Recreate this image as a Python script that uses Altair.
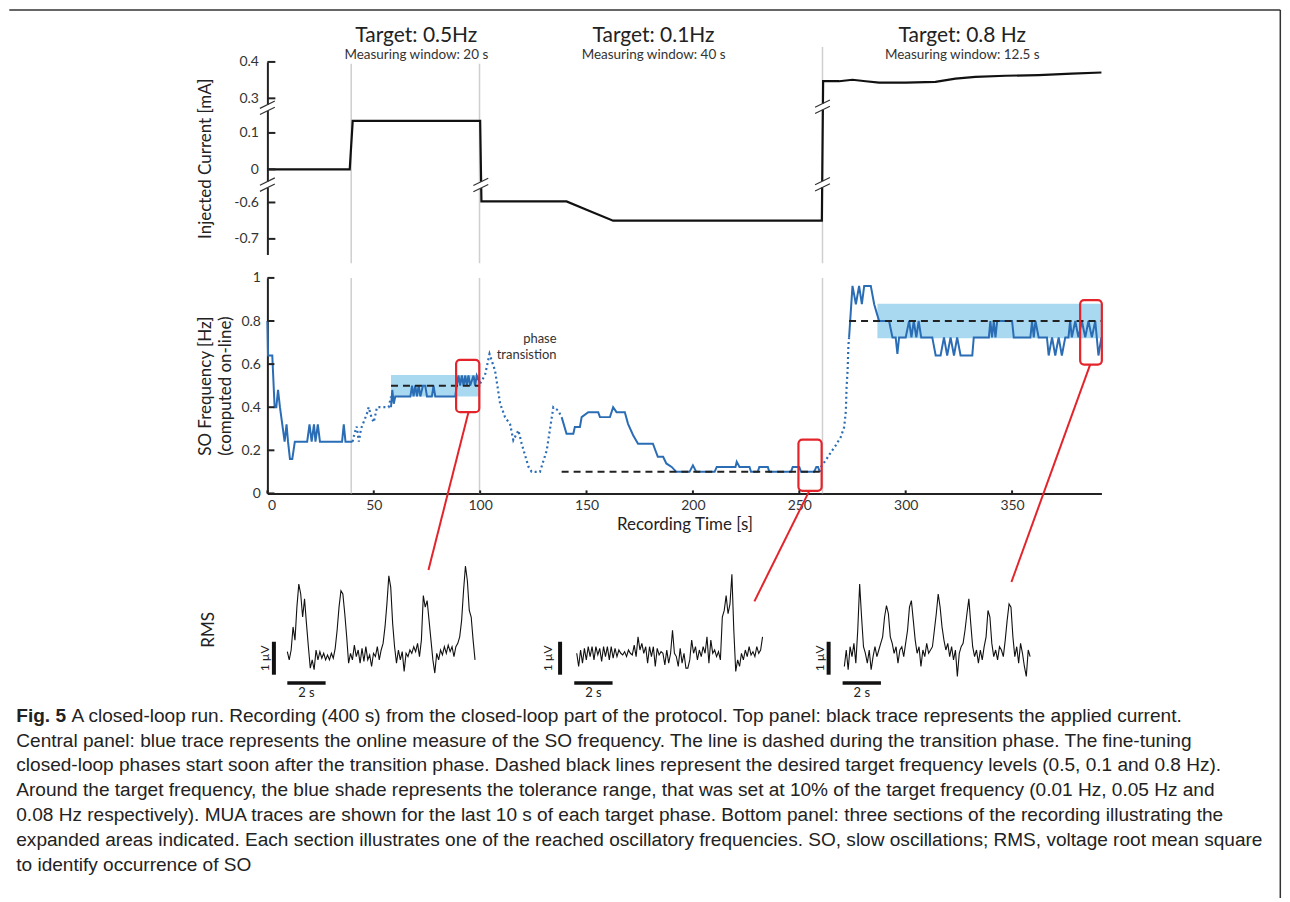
import altair as alt
import pandas as pd

FONT = "Lato"
CAPFONT = "Liberation Sans"
BLUE = "#2a6db5"
BAND = "#a9d9f1"
RED = "#e3242b"
GRAY = "#cfcfcf"
INK = "#222222"

W = 836
T_MAX = 392

# ---------------- data ----------------
# top panel: injected current (mA) vs time (s)
top_t = [0, 38.7, 40.1, 100.0, 100.6, 140.6, 150.0, 162.5, 260.6, 261.2, 268.7, 275.0,
         281.2, 287.5, 300.0, 314.0, 323.4, 332.8, 346.9, 362.5, 378.1, 392.0]
top_mA = [0, 0, 0.133, 0.133, -0.597, -0.597, -0.62, -0.65, -0.65, 0.347, 0.347, 0.351,
          0.347, 0.343, 0.343, 0.345, 0.354, 0.359, 0.362, 0.364, 0.368, 0.371]
top_tick_labels = [0.4, 0.3, 0.1, 0, -0.6, -0.7]

phase_bounds = [39.4, 99.7, 260.9]
phase_titles = ["Target: 0.5Hz", "Target: 0.1Hz", "Target: 0.8 Hz"]
phase_windows = ["Measuring window: 20 s", "Measuring window: 40 s", "Measuring window: 12.5 s"]
phase_centers = [70.0, 181.5, 326.6]

# middle panel: SO frequency (Hz)
solid_segments = [
    [(0, 0.80), (0.3, 0.64), (2.3, 0.64), (3.4, 0.40), (4.2, 0.40), (5.0, 0.48), (5.9, 0.40),
     (8.1, 0.24), (9.0, 0.32), (9.7, 0.24), (10.6, 0.16), (11.7, 0.16), (12.9, 0.24), (18.7, 0.24),
     (19.8, 0.32), (20.8, 0.24), (21.9, 0.32), (22.6, 0.24), (23.7, 0.32), (24.7, 0.24),
     (35.1, 0.24), (35.9, 0.32), (36.7, 0.24), (40.0, 0.24)],
    [(58.1, 0.40), (58.7, 0.48), (59.4, 0.416), (60.1, 0.45), (67.2, 0.45), (68.0, 0.50),
     (68.7, 0.45), (69.5, 0.50), (70.3, 0.45), (71.1, 0.50), (71.9, 0.45), (73.1, 0.50),
     (74.2, 0.50), (75.0, 0.45), (77.3, 0.45), (78.1, 0.50), (78.9, 0.45), (88.3, 0.45),
     (89.0, 0.50), (89.8, 0.547), (90.6, 0.50), (91.4, 0.547), (92.2, 0.50), (93.0, 0.547),
     (93.7, 0.50), (94.5, 0.547), (95.3, 0.50), (96.9, 0.547), (97.6, 0.50), (98.4, 0.547),
     (100.0, 0.51)],
    [(138.3, 0.354), (140.6, 0.277), (143.8, 0.277), (144.5, 0.308), (146.9, 0.308),
     (147.7, 0.354), (150.8, 0.377), (155.5, 0.377), (156.3, 0.354), (161.0, 0.354),
     (162.5, 0.40), (164.1, 0.377), (168.0, 0.377), (169.5, 0.323), (171.9, 0.27),
     (174.2, 0.231), (181.2, 0.231), (183.5, 0.17), (186.0, 0.17), (187.5, 0.139),
     (190.0, 0.123), (192.2, 0.10), (198.4, 0.10), (200.0, 0.13), (201.6, 0.10),
     (210.2, 0.10), (211.2, 0.123), (220.0, 0.123), (220.6, 0.147), (221.9, 0.123),
     (226.6, 0.123), (227.3, 0.10), (230.5, 0.10), (231.2, 0.123), (235.2, 0.123),
     (235.9, 0.10), (246.1, 0.10), (246.9, 0.123), (250.0, 0.123), (250.8, 0.10),
     (257.0, 0.10), (258.0, 0.123), (258.8, 0.123), (259.6, 0.10)],
    [(273.4, 0.724), (275.0, 0.963), (276.6, 0.878), (278.1, 0.963), (279.4, 0.878),
     (280.5, 0.963), (283.6, 0.963), (285.2, 0.878), (286.3, 0.84), (287.5, 0.80),
     (292.2, 0.80), (293.8, 0.724), (295.3, 0.724), (296.1, 0.647), (296.9, 0.724),
     (300.0, 0.724), (301.6, 0.80), (302.7, 0.724), (303.8, 0.80), (305.0, 0.724),
     (306.1, 0.80), (307.3, 0.724), (312.5, 0.724), (314.1, 0.64), (316.4, 0.64),
     (318.0, 0.724), (319.5, 0.64), (321.1, 0.724), (322.7, 0.64), (324.2, 0.724),
     (325.8, 0.64), (331.3, 0.64), (332.0, 0.724), (339.1, 0.724), (339.8, 0.80),
     (340.6, 0.724), (341.4, 0.80), (342.2, 0.724), (343.0, 0.80), (350.0, 0.80),
     (350.8, 0.724), (358.6, 0.724), (359.4, 0.80), (360.2, 0.724), (361.0, 0.80),
     (362.5, 0.724), (366.4, 0.724), (367.2, 0.64), (368.8, 0.724), (370.3, 0.64),
     (371.9, 0.724), (373.4, 0.64), (375.0, 0.724), (376.5, 0.724), (377.3, 0.80),
     (378.1, 0.724), (379.7, 0.80), (381.2, 0.724), (382.8, 0.80), (384.4, 0.724),
     (385.9, 0.80), (387.5, 0.724), (389.1, 0.80), (390.6, 0.64), (392.0, 0.724)],
]
dotted_segments = [
    [(40.0, 0.24), (41.0, 0.28), (42.0, 0.31), (43.0, 0.24), (44.0, 0.30), (46.8, 0.37),
     (47.6, 0.40), (49.0, 0.35), (50.0, 0.33), (51.5, 0.40), (57.0, 0.40), (58.1, 0.45)],
    [(100.0, 0.51), (102.3, 0.55), (104.4, 0.647), (107.0, 0.57), (109.4, 0.416),
     (111.7, 0.354), (114.1, 0.32), (115.6, 0.247), (118.0, 0.293), (119.5, 0.231),
     (122.7, 0.124), (124.2, 0.10), (128.1, 0.10), (131.3, 0.20), (134.4, 0.40),
     (136.7, 0.385), (138.3, 0.354)],
    [(259.6, 0.10), (260.2, 0.123), (262.5, 0.155), (264.8, 0.19), (267.2, 0.224),
     (269.5, 0.262), (271.1, 0.308), (271.9, 0.385), (272.2, 0.49), (272.7, 0.57),
     (273.1, 0.69), (273.4, 0.724)],
]

target_f = [0.5, 0.1, 0.8]
target_start = [58.1, 138.3, 273.4]
target_end = [100.0, 259.6, 392.0]

band_lo = [0.45, 0.72]
band_hi = [0.55, 0.88]
band_start = [58.1, 286.7]
band_end = [100.0, 392.0]

box_t0 = [88.7, 249.6, 382.0]
box_t1 = [99.6, 260.5, 392.2]
box_f0 = [0.377, 0.012, 0.598]
box_f1 = [0.62, 0.25, 0.897]

link_t0 = [94.5, 254.7, 386.7]
link_f0 = [0.377, 0.012, 0.598]
link_t1 = [75.7, 228.9, 349.7]
link_f1 = [-0.355, -0.501, -0.411]

mid_x_ticks = [0, 50, 100, 150, 200, 250, 300, 350]
mid_y_ticks = [0, 0.2, 0.4, 0.6, 0.8, 1]

# bottom panel: RMS traces (uV), sampled every 0.1 s
rms_05hz = [0.15, -0.1, 0.2, 0.9, 0.5, 1.5, 2.2, 1.9, 1.2, 1.75,
            1.0, 0.3, -0.35, -0.1, -0.4, 0.2, -0.1, 0.15, -0.05, 0.1,
            -0.1, 0.05, -0.1, 0.1, -0.05, 0.25, 0.8, 1.5, 2.0, 1.9,
            1.3, 0.6, -0.2, 0.1, -0.1, 0.35, 0.0, 0.2, -0.2, 0.25,
            -0.15, 0.3, -0.1, 0.05, -0.3, 0.1, 0.0, 0.3, -0.1, 0.2,
            0.4, 0.9, 1.6, 2.45, 2.1, 1.0, 0.3, -0.2, 0.2, -0.1,
            0.15, -0.45, 0.1, 0.0, 0.2, 0.1, 0.3, 0.15, 0.4, 0.0,
            0.5, 1.85, 1.5, 1.7, 1.1, 0.5, -0.1, -0.5, 0.1, -0.1,
            0.2, 0.05, 0.3, 0.1, 0.35, 0.15, 0.3, 0.0, 0.3, 0.4,
            0.6, 1.1, 2.0, 2.75, 2.3, 1.4, 1.2, 0.5, -0.1]
rms_01hz = [0.1, -0.3, 0.2, -0.2, 0.25, -0.1, 0.3, 0.0, 0.3, -0.1,
            0.3, 0.05, 0.25, -0.15, 0.3, 0.0, 0.3, -0.1, 0.3, -0.05,
            0.25, 0.0, 0.2, 0.1, 0.05, 0.15, 0.0, 0.2, 0.1, 0.05,
            0.35, 0.0, 0.6, 0.2, 0.4, 0.1, 0.3, -0.2, 0.3, 0.0,
            0.3, -0.3, 0.25, 0.05, 0.15, 0.1, -0.25, 0.2, -0.2, 0.1,
            0.8, 0.1, 0.0, -0.3, 0.25, -0.2, 0.1, -0.35, -0.35, -0.1,
            0.5, 0.1, 0.3, -0.1, 0.2, 0.0, 0.3, 0.1, 0.6, -0.2,
            0.5, 0.1, 0.2, 0.0, 0.15, -0.1, 1.2, 1.4, 1.85, 1.3,
            1.6, 2.5, 0.8, -0.45, -0.1, -0.3, 0.1, -0.1, 0.2, 0.0,
            0.3, 0.05, 0.15, 0.0, 0.3, 0.1, 0.2, 0.6]
rms_08hz = [-0.3, 0.2, -0.4, 0.3, 0.0, 0.4, -0.2, 0.8, 2.2, 1.2,
            0.3, 0.1, -0.2, 0.2, -0.4, 0.0, 0.3, 0.0, 0.2, 0.4,
            0.6, 1.2, 1.55, 1.3, 0.6, 0.4, 0.1, 0.3, -0.2, 0.2,
            0.3, 0.0, 0.4, 0.8, 1.5, 1.7, 1.1, 0.5, 0.1, 0.3,
            -0.3, 0.2, 0.0, 0.4, 0.1, 0.2, 0.3, 0.8, 1.3, 1.9,
            1.5, 0.9, 0.5, 0.2, 0.4, 0.0, 0.3, -0.1, 0.2, -0.6,
            0.1, 0.3, 0.4, 0.8, 1.3, 1.75, 1.0, 0.3, 0.0, 0.2,
            -0.2, 0.2, -0.1, 0.3, 0.6, 1.4, 1.2, 0.4, 0.0, 0.2,
            -0.1, 0.3, 0.2, 0.0, 0.5, 1.1, 1.6, 1.5, 0.6, 0.0,
            0.3, -0.2, 0.4, 0.1, -0.3, -0.6, 0.2, 0.0]
trace_offsets = [1.04, 16.15, 30.12]
hbar_start = [1.04, 16.02, 30.03]
vbar_x = [0.34, 15.28, 29.30]
vlabel_x = [-0.12, 14.65, 28.87]

caption_lines = [
    "A closed-loop run. Recording (400 s) from the closed-loop part of the protocol. Top panel: black trace represents the applied current.",
    "Central panel: blue trace represents the online measure of the SO frequency. The line is dashed during the transition phase. The fine-tuning",
    "closed-loop phases start soon after the transition phase. Dashed black lines represent the desired target frequency levels (0.5, 0.1 and 0.8 Hz).",
    "Around the target frequency, the blue shade represents the tolerance range, that was set at 10% of the target frequency (0.01 Hz, 0.05 Hz and",
    "0.08 Hz respectively). MUA traces are shown for the last 10 s of each target phase. Bottom panel: three sections of the recording illustrating the",
    "expanded areas indicated. Each section illustrates one of the reached oscillatory frequencies. SO, slow oscillations; RMS, voltage root mean square",
    "to identify occurrence of SO",
]


# ---------------- broken-axis display transform for the top panel ----------------
def disp(v):
    if v >= 0.25:
        return 4.0 + (v - 0.3) * 10
    if v > -0.3:
        return 2.05 + v * 10
    return 1.14 + (v + 0.6) * 10


top_ticks = [disp(v) for v in top_tick_labels]
label_expr = " : ".join(
    f"abs(datum.value - {d}) < 0.2 ? '{lab:g}'" for d, lab in zip(top_ticks, top_tick_labels)
) + " : ''"

TOP_H = 193
MID_H = 216
BOT_H = 183

x_top = alt.Scale(domain=[0, T_MAX], nice=False, zero=False)
y_top_scale = alt.Scale(domain=[-0.288, 5], nice=False, zero=False)
Y_AXIS_TOP = alt.Axis(values=top_ticks, labelExpr=label_expr, tickSize=0, domainColor=INK,
                      domainWidth=2, labelFont=FONT, labelFontSize=14, labelColor="#333",
                      labelPadding=9, grid=False, title="Injected Current [mA]",
                      titleFont=FONT, titleFontSize=17, titleFontWeight="normal",
                      titleColor=INK, titleAngle=270, titleX=-62, titleY=TOP_H / 2,
                      titleAlign="center", titleBaseline="middle")


def XT(f="t"):
    return alt.X(f"{f}:Q", scale=x_top, axis=None)


def YT(f="D"):
    return alt.Y(f"{f}:Q", scale=y_top_scale, axis=Y_AXIS_TOP)


top_df = pd.DataFrame({"t": top_t, "D": [disp(v) for v in top_mA]})
gray_top_df = pd.DataFrame({"t": phase_bounds, "D": [4.95, 4.95, 5.41], "D2": [-0.53] * 3})
tick_top_df = pd.DataFrame({"t": [0] * 6, "t2": [3.75] * 6, "D": top_ticks})
break_centers = [(0, 3.74), (0, 1.63), (100.3, 1.62), (260.9, 3.77), (260.9, 1.64)]
gap_rows, slash_rows = [], []
for bt, bd in break_centers:
    gap_rows.append({"t": bt, "D": bd - 0.085, "D2": bd + 0.085})
    for off in (-0.085, 0.085):
        slash_rows.append({"t": bt - 3.5, "t2": bt + 3.5, "D": bd + off - 0.1, "D2": bd + off + 0.1})
gap_df = pd.DataFrame(gap_rows)
slash_df = pd.DataFrame(slash_rows)
title_df = pd.DataFrame({"t": phase_centers, "D": [5.548] * 3, "label": phase_titles})
window_df = pd.DataFrame({"t": phase_centers, "D": [5.09] * 3, "label": phase_windows})

top_layers = [
    alt.Chart(gray_top_df).mark_rule(color=GRAY, strokeWidth=1.5).encode(
        x=XT(), y=YT(), y2=alt.Y2("D2:Q")),
    alt.Chart(top_df).mark_line(color="#111", strokeWidth=2.2, strokeJoin="miter").encode(
        x=XT(), y=YT()),
    alt.Chart(tick_top_df).mark_rule(color=INK, strokeWidth=2).encode(
        x=XT(), x2=alt.X2("t2:Q"), y=YT()),
    alt.Chart(gap_df).mark_rule(color="white", strokeWidth=5).encode(
        x=XT(), y=YT(), y2=alt.Y2("D2:Q")),
    alt.Chart(slash_df).mark_rule(color="#333", strokeWidth=1.2).encode(
        x=XT(), x2=alt.X2("t2:Q"), y=YT(), y2=alt.Y2("D2:Q")),
    alt.Chart(title_df).mark_text(font=FONT, fontSize=21, color=INK, baseline="alphabetic").encode(
        x=XT(), y=YT(), text="label:N"),
    alt.Chart(window_df).mark_text(font=FONT, fontSize=13.5, color="#333", baseline="alphabetic").encode(
        x=XT(), y=YT(), text="label:N"),
    # outer frame of the figure
    alt.Chart(pd.DataFrame({"k": [0]})).mark_rule(color="#333", strokeWidth=1.5).encode(
        x=alt.value(-258.7), x2=alt.value(1015.3), y=alt.value(-52)),
    alt.Chart(pd.DataFrame({"k": [0]})).mark_rule(color="#333", strokeWidth=1.5).encode(
        x=alt.value(1015.3), y=alt.value(-52), y2=alt.value(838)),
]
top = alt.layer(*top_layers).properties(width=W, height=TOP_H)

# ---------------- middle panel ----------------
x_mid = alt.Scale(domain=[0, T_MAX], nice=False, zero=False)
y_mid = alt.Scale(domain=[0, 1], nice=False, zero=False)
X_AXIS_MID = alt.Axis(values=mid_x_ticks, format="d", tickSize=0, domainColor=INK, domainWidth=2,
                      labelFont=FONT, labelFontSize=14, labelColor="#333", labelPadding=5,
                      grid=False, title="Recording Time [s]", titleFont=FONT, titleFontSize=17,
                      titleFontWeight="normal", titleColor=INK, titlePadding=4)
Y_AXIS_MID = alt.Axis(values=mid_y_ticks, format="~g", tickSize=0, domainColor=INK, domainWidth=2,
                      labelFont=FONT, labelFontSize=14, labelColor="#333", labelPadding=7,
                      grid=False, title=["SO Frequency [Hz]", "(computed on-line)"],
                      titleFont=FONT, titleFontSize=17, titleFontWeight="normal", titleColor=INK,
                      titleAngle=270, titleX=-62, titleY=MID_H / 2, titleAlign="center",
                      titleBaseline="middle", titleLineHeight=20)


def XM(f="t"):
    return alt.X(f"{f}:Q", scale=x_mid, axis=X_AXIS_MID)


def YM(f="f"):
    return alt.Y(f"{f}:Q", scale=y_mid, axis=Y_AXIS_MID)


def seg_frame(segs):
    rows = []
    for k, seg in enumerate(segs):
        for t, f in seg:
            rows.append({"t": t, "f": f, "seg": k})
    return pd.DataFrame(rows)


solid_df = seg_frame(solid_segments)
dotted_df = seg_frame(dotted_segments)
band_df = pd.DataFrame({"t": band_start, "t2": band_end, "f": band_lo, "f2": band_hi})
target_df = pd.DataFrame({"t": target_start, "t2": target_end, "f": target_f})
gray_mid_df = pd.DataFrame({"t": phase_bounds, "f": [1] * 3, "f2": [0] * 3})
box_df = pd.DataFrame({"t": box_t0, "t2": box_t1, "f": box_f0, "f2": box_f1})
link_df = pd.DataFrame({"t": link_t0, "t2": link_t1, "f": link_f0, "f2": link_f1})
ytick_mid_df = pd.DataFrame({"t": [0] * 6, "t2": [3.3] * 6, "f": mid_y_ticks})
xtick_mid_df = pd.DataFrame({"t": mid_x_ticks, "f": [0] * 8, "f2": [0.014] * 8})
phase_txt_df = pd.DataFrame({"t": [135.9, 135.9], "f": [0.717, 0.642], "label": ["phase", "transistion"]})

mid_layers = [
    alt.Chart(band_df).mark_rect(color=BAND).encode(
        x=XM(), x2=alt.X2("t2:Q"), y=YM(), y2=alt.Y2("f2:Q")),
    alt.Chart(gray_mid_df).mark_rule(color=GRAY, strokeWidth=1.5).encode(
        x=XM(), y=YM(), y2=alt.Y2("f2:Q")),
    alt.Chart(solid_df).mark_line(color=BLUE, strokeWidth=2).encode(
        x=XM(), y=YM(), detail="seg:N"),
    alt.Chart(dotted_df).mark_line(color=BLUE, strokeWidth=2.2, strokeDash=[2, 3]).encode(
        x=XM(), y=YM(), detail="seg:N"),
    alt.Chart(target_df).mark_rule(color=INK, strokeWidth=2, strokeDash=[7, 5]).encode(
        x=XM(), x2=alt.X2("t2:Q"), y=YM()),
    alt.Chart(box_df).mark_rect(fillOpacity=0, stroke=RED, strokeWidth=2.2, cornerRadius=4).encode(
        x=XM(), x2=alt.X2("t2:Q"), y=YM(), y2=alt.Y2("f2:Q")),
    alt.Chart(link_df).mark_rule(color=RED, strokeWidth=2).encode(
        x=XM(), x2=alt.X2("t2:Q"), y=YM(), y2=alt.Y2("f2:Q")),
    alt.Chart(phase_txt_df).mark_text(font=FONT, fontSize=13, color="#333", align="right").encode(
        x=XM(), y=YM(), text="label:N"),
    alt.Chart(ytick_mid_df).mark_rule(color=INK, strokeWidth=2).encode(
        x=XM(), x2=alt.X2("t2:Q"), y=YM()),
    alt.Chart(xtick_mid_df).mark_rule(color=INK, strokeWidth=2).encode(
        x=XM(), y=YM(), y2=alt.Y2("f2:Q")),
]
mid = alt.layer(*mid_layers).properties(width=W, height=MID_H)

# ---------------- bottom panel: RMS traces ----------------
PX_PER_S = 19.2
x_bot = alt.Scale(domain=[0, W / PX_PER_S], nice=False, zero=False)
y_bot = alt.Scale(domain=[-1.3, 4.24], nice=False, zero=False)


def XB(f="x"):
    return alt.X(f"{f}:Q", scale=x_bot, axis=None)


def YB(f="v"):
    return alt.Y(f"{f}:Q", scale=y_bot, axis=None)


trace_rows = []
for k, (vals, off) in enumerate(zip([rms_05hz, rms_01hz, rms_08hz], trace_offsets)):
    for i, v in enumerate(vals):
        trace_rows.append({"x": off + i * 0.1, "v": v, "trace": k})
trace_df = pd.DataFrame(trace_rows)
vbar_df = pd.DataFrame({"x": vbar_x, "v": [-0.55] * 3, "v2": [0.45] * 3})
hbar_df = pd.DataFrame({"x": hbar_start, "x2": [h + 2 for h in hbar_start], "v": [-0.8] * 3})
hlab_df = pd.DataFrame({"x": [h + 1 for h in hbar_start], "v": [-1.12] * 3, "label": ["2 s"] * 3})
vlab_df = pd.DataFrame({"x": vlabel_x, "v": [-0.05] * 3, "label": ["1 µV"] * 3})
rms_df = pd.DataFrame({"x": [-3.06], "v": [0.81], "label": ["RMS"]})
cap_df = pd.DataFrame({"line": list(range(len(caption_lines))), "label": caption_lines})
cap_first = cap_df[cap_df.line == 0]
cap_rest = cap_df[cap_df.line > 0]
fig_df = pd.DataFrame({"line": [0], "label": ["Fig. 5"]})
cap_y = alt.Scale(domain=[0, 6], range=[199.2, 349.2])
CAP_SIZE = 19.1

bot_layers = [
    alt.Chart(trace_df).mark_line(color="#111", strokeWidth=1.1).encode(
        x=XB(), y=YB(), detail="trace:N"),
    alt.Chart(vbar_df).mark_rule(color="#111", strokeWidth=4).encode(
        x=XB(), y=YB(), y2=alt.Y2("v2:Q")),
    alt.Chart(hbar_df).mark_rule(color="#111", strokeWidth=3.5).encode(
        x=XB(), x2=alt.X2("x2:Q"), y=YB()),
    alt.Chart(hlab_df).mark_text(font=FONT, fontSize=13, color="#222").encode(
        x=XB(), y=YB(), text="label:N"),
    alt.Chart(vlab_df).mark_text(font=FONT, fontSize=12, color="#222", angle=270).encode(
        x=XB(), y=YB(), text="label:N"),
    alt.Chart(rms_df).mark_text(font=FONT, fontSize=17, color="#222", angle=270).encode(
        x=XB(), y=YB(), text="label:N"),
    alt.Chart(fig_df).mark_text(font=CAPFONT, fontSize=CAP_SIZE, fontWeight="bold", color="#222",
                                align="left", baseline="middle").encode(
        x=alt.value(-251.7), y=alt.Y("line:Q", scale=cap_y, axis=None), text="label:N"),
    alt.Chart(cap_first).mark_text(font=CAPFONT, fontSize=CAP_SIZE, color="#222",
                                   align="left", baseline="middle").encode(
        x=alt.value(-196.4), y=alt.Y("line:Q", scale=cap_y, axis=None), text="label:N"),
    alt.Chart(cap_rest).mark_text(font=CAPFONT, fontSize=CAP_SIZE, color="#222",
                                  align="left", baseline="middle").encode(
        x=alt.value(-251.7), y=alt.Y("line:Q", scale=cap_y, axis=None), text="label:N"),
]
bot = alt.layer(*bot_layers).resolve_scale(y="independent").properties(width=W, height=BOT_H)

chart = alt.vconcat(top, mid, bot, spacing=23.5, bounds="flush").properties(
    padding=0
).configure_view(stroke=None)

chart.save("out.html", embed_options={"renderer": "svg", "actions": False})
